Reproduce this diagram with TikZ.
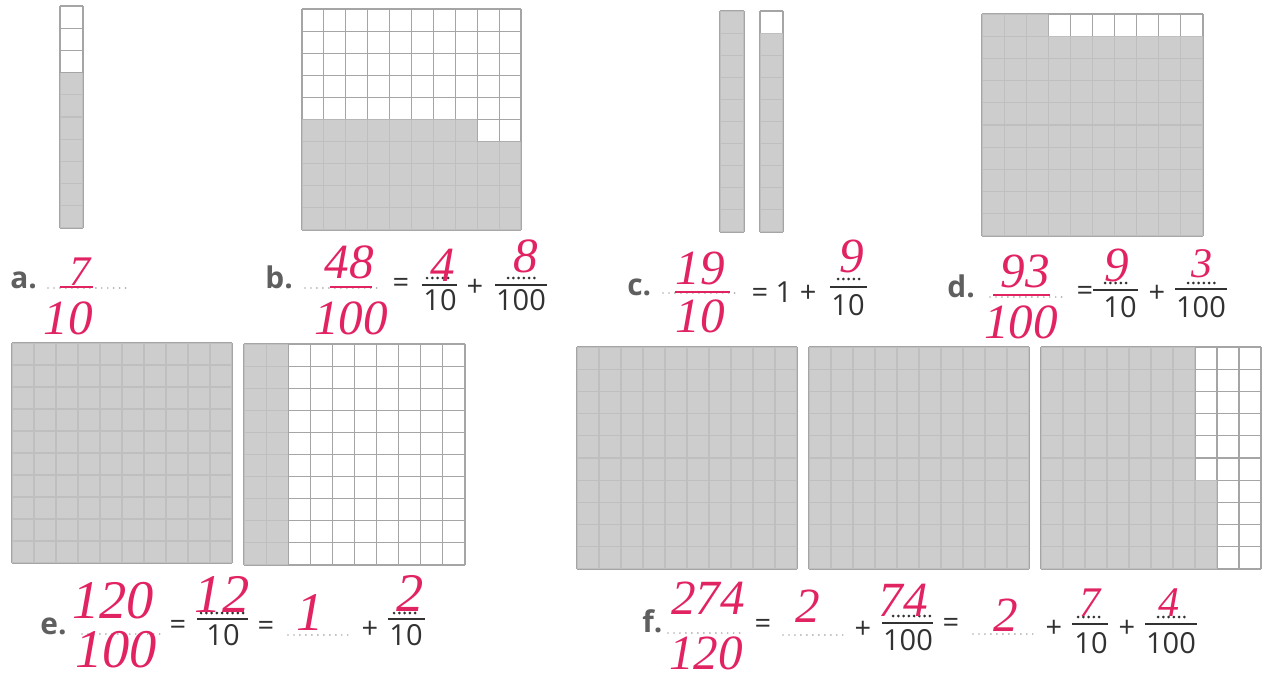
\documentclass[tikz,border=0pt]{standalone}
\usepackage{fontspec}
\setmainfont{Open Sans}
\newfontfamily\handfont{Liberation Serif}
\usepackage{tikz}
\usetikzlibrary{positioning}

\definecolor{cellgray}{RGB}{196,196,196}
\definecolor{gridgray}{RGB}{165,165,165}
\definecolor{printgray}{RGB}{50,50,50}
\definecolor{labelgray}{RGB}{95,95,95}
\definecolor{dotgray}{RGB}{175,175,175}
\definecolor{handred}{RGB}{226,35,98}

% square grid: x0, y0, x1, y1, columns, rows
\newcommand{\cellgrid}[6]{%
  \foreach \k in {0,...,#5}{\draw[gridline] ({#1+(#3-#1)*\k/#5},#2) -- ({#1+(#3-#1)*\k/#5},#4);}
  \foreach \k in {0,...,#6}{\draw[gridline] (#1,{#2+(#4-#2)*\k/#6}) -- (#3,{#2+(#4-#2)*\k/#6});}
}

\begin{document}
\begin{tikzpicture}[
    x=0.02cm, y=-0.02cm,
    gridline/.style={draw=gridgray, line width=0.6pt},
    shaded/.style={fill=cellgray, fill opacity=0.85},
    printed/.style={font=\fontsize{16.5}{19}\selectfont, text=printgray, inner sep=0pt},
    itemlabel/.style={font=\fontsize{17}{19}\selectfont\bfseries, text=labelgray, inner sep=0pt, anchor=base west},
    hand/.style={font=\handfont\itshape\fontsize{28}{30}\selectfont, text=handred, inner sep=0pt},
    smallhand/.style={hand, font=\handfont\itshape\fontsize{24}{26}\selectfont},
    bighand/.style={hand, font=\handfont\itshape\fontsize{31}{33}\selectfont},
    fracbar/.style={draw=printgray, line width=0.8pt},
    handbar/.style={draw=handred, line width=1.4pt},
    answerline/.style={draw=dotgray, line width=1.1pt, line cap=round, dash pattern=on 0pt off 3.4pt},
    numdots/.style={draw=printgray, line width=1.7pt, line cap=round, dash pattern=on 0pt off 3pt}
]
\useasboundingbox (0,0) rectangle (1266,682);

% a. one strip, 7 tenths
\cellgrid{60}{6}{83}{228}{1}{10}
\fill[shaded] (60,72.6) rectangle (83,228);

% b. 48 hundredths
\cellgrid{302}{9}{521}{230}{10}{10}
\fill[shaded] (302,119.5) -- (477.2,119.5) -- (477.2,141.6) -- (521,141.6) -- (521,230) -- (302,230) -- cycle;

% c. two strips, 19 tenths
\cellgrid{720}{11}{744}{232}{1}{10}
\cellgrid{760}{11}{783}{232}{1}{10}
\fill[shaded] (720,11) rectangle (744,232);
\fill[shaded] (760,33.1) rectangle (783,232);

% d. 93 hundredths
\cellgrid{982}{14}{1203}{236}{10}{10}
\fill[shaded] (982,14) -- (1048.3,14) -- (1048.3,36.2) -- (1203,36.2) -- (1203,236) -- (982,236) -- cycle;

% e. 120 hundredths
\cellgrid{12}{343}{232}{563}{10}{10}
\cellgrid{244}{344}{465}{565}{10}{10}
\fill[shaded] (12,343) rectangle (232,563);
\fill[shaded] (244,344) rectangle (288.2,565);

% f. 274 hundredths
\cellgrid{577}{347}{797}{569}{10}{10}
\cellgrid{809}{347}{1029}{569}{10}{10}
\cellgrid{1041}{347}{1261}{569}{10}{10}
\fill[shaded] (577,347) rectangle (797,569);
\fill[shaded] (809,347) rectangle (1029,569);
\fill[shaded] (1041,347) -- (1195,347) -- (1195,480.2) -- (1217,480.2) -- (1217,569) -- (1041,569) -- cycle;

% Row 1 answers
\node[itemlabel] (la) at (10,288) {a.};
\draw[answerline] (48,288) -- (128,288);
\draw[handbar] (60,287) -- (93,287);
\node[smallhand] (a7) at (80,272) {7};
\node[hand] (a10) at (68,318) {10};

\node[itemlabel] (lb) at (265,288) {b.};
\draw[answerline] (305,288) -- (382,288);
\draw[handbar] (330,287) -- (372,287);
\node[hand] (b48) at (349,262) {48};
\node[hand] (b100) at (351,318) {100};
\node[printed] (beq) at (401,285) {=};
\draw[fracbar] (422,285) -- (457,285);
\draw[numdots] (427,278) -- (452,278);
\node[printed] (bten) at (440,300) {10};
\node[hand] (b4) at (443,265) {4};
\node[printed] (bplus) at (475,288) {+};
\draw[fracbar] (495,285) -- (547,285);
\draw[numdots] (508,278) -- (535,278);
\node[printed] (bhun) at (521,300) {100};
\node[hand] (b8) at (526,256) {8};

\node[itemlabel] (lc) at (627,295) {c.};
\draw[answerline] (663,293) -- (740,293);
\draw[handbar] (675,292) -- (730,292);
\node[hand] (c19) at (700,268) {19};
\node[hand] (c10) at (700,316) {10};
\node[printed] (cone) at (784,292) {= 1 +};
\draw[fracbar] (830,287) -- (867,287);
\draw[numdots] (838,279) -- (862,279);
\node[printed] (cten) at (848,305) {10};
\node[hand] (c9) at (852,256) {9};

\node[itemlabel] (ld) at (947,297) {d.};
\draw[answerline] (990,297) -- (1067,297);
\draw[handbar] (993,295) -- (1050,295);
\node[hand] (d93) at (1025,271) {93};
\node[hand] (d100) at (1021,322) {100};
\node[printed] (deq) at (1085,293) {=};
\draw[fracbar] (1093,290) -- (1138,290);
\draw[numdots] (1105,283) -- (1130,283);
\node[printed] (dten) at (1120,307) {10};
\node[hand] (d9) at (1117,265) {9};
\node[printed] (dplus) at (1157,294) {+};
\draw[fracbar] (1175,289) -- (1227,289);
\draw[numdots] (1188,283) -- (1215,283);
\node[printed] (dhun) at (1201,307) {100};
\node[smallhand] (d3) at (1202,264) {3};

% Row 2 answers
\node[itemlabel] (le) at (40,634) {e.};
\draw[answerline] (82,634) -- (160,634);
\node[bighand] (e120) at (113,601) {120};
\node[bighand] (e100) at (116,650) {100};
\node[printed] (eeqa) at (178,627) {=};
\draw[fracbar] (197,619) -- (248,619);
\draw[numdots] (201,613) -- (244,613);
\node[printed] (etena) at (223,635) {10};
\node[bighand] (e12) at (222,594) {12};
\node[printed] (eeqb) at (266,628) {=};
\draw[answerline] (288,635) -- (350,635);
\node[bighand] (e1) at (310,613) {1};
\node[printed] (eplus) at (370,630) {+};
\draw[fracbar] (388,619) -- (425,619);
\draw[numdots] (394,613) -- (420,613);
\node[printed] (etenb) at (406,635) {10};
\node[bighand] (e2) at (410,593) {2};

\node[itemlabel] (lf) at (642,632) {f.};
\draw[answerline] (668,633) -- (743,633);
\node[hand] (f274) at (708,598) {274};
\node[hand] (f120) at (706,653) {120};
\node[printed] (feqa) at (763,626) {=};
\draw[answerline] (783,635) -- (847,635);
\node[hand] (f2a) at (808,606) {2};
\node[printed] (fplusa) at (863,630) {+};
\draw[fracbar] (882,623) -- (933,623);
\draw[numdots] (893,616) -- (930,616);
\node[printed] (fhuna) at (908,640) {100};
\node[hand] (f74) at (903,600) {74};
\node[printed] (feqb) at (951,625) {=};
\draw[answerline] (973,634) -- (1035,634);
\node[hand] (f2b) at (1006,615) {2};
\node[printed] (fplusb) at (1054,629) {+};
\draw[fracbar] (1072,624) -- (1108,624);
\draw[numdots] (1078,617) -- (1102,617);
\node[printed] (ften) at (1091,643) {10};
\node[smallhand] (f7) at (1090,603) {7};
\node[printed] (fplusc) at (1127,629) {+};
\draw[fracbar] (1145,624) -- (1197,624);
\draw[numdots] (1158,617) -- (1185,617);
\node[printed] (fhunb) at (1171,643) {100};
\node[smallhand] (f4) at (1169,603) {4};

\end{tikzpicture}
\end{document}
